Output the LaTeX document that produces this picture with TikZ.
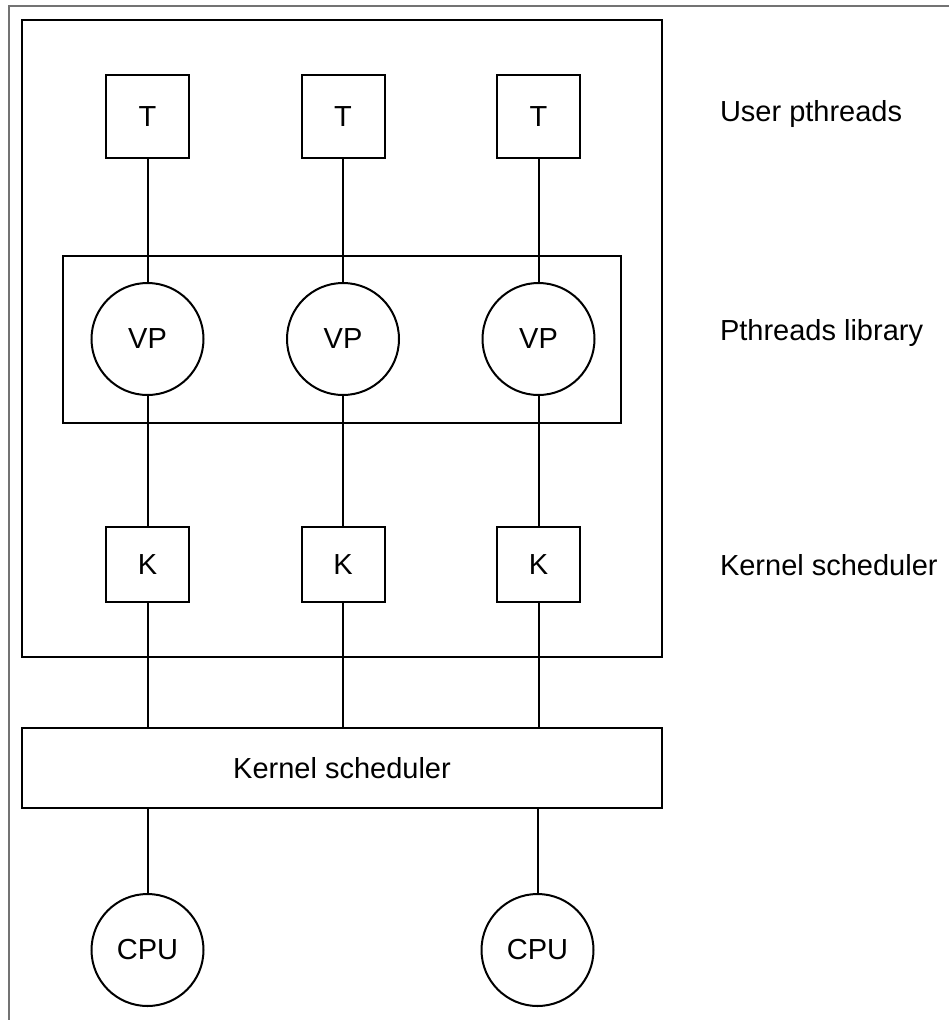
\documentclass[tikz,border=0pt]{standalone}
\usepackage{fontspec}
\setmainfont{Liberation Sans}
\begin{document}
\begin{tikzpicture}[x=1pt,y=-1pt,
  every node/.style={font=\fontsize{29}{34}\selectfont, inner sep=0pt, outer sep=0pt},
  frame/.style={draw=black!55, line width=1.5pt},
  box/.style={draw, line width=2pt, rectangle},
  sq/.style={box, minimum width=83pt, minimum height=83pt},
  kbox/.style={box, minimum width=83pt, minimum height=75pt},
  circ/.style={draw, line width=2pt, circle, minimum size=112pt},
  link/.style={line width=2pt},
  lbl/.style={anchor=base west}]
  \useasboundingbox (0,0) rectangle (949,1020);
  % open page frame: top and left edges only
  \coordinate (ftl) at (9,6);
  \coordinate (ftr) at (949,6);
  \coordinate (fbl) at (9,1020);
  \draw[frame] (ftr) -- (ftl) -- (fbl);

  % process container and library container
  \node[box, minimum width=640pt, minimum height=637pt] (proc) at (342,338.5) {};
  \node[box, minimum width=558pt, minimum height=166.5pt] (lib) at (342,339.25) {};

  % user threads, virtual processors, kernel threads
  \foreach \i/\x in {1/147.5, 2/343, 3/538.5} {
    \node[sq]   (t\i)  at (\x,116.5) {T};
    \node[circ] (vp\i) at (\x,339)   {VP};
    \node[kbox] (k\i)  at (\x,564.5) {K};
  }

  % kernel scheduler and processors
  \node[box, minimum width=640pt, minimum height=80pt] (sched) at (342,768) {Kernel scheduler};
  \node[circ] (cpu1) at (147.5,950) {CPU};
  \node[circ] (cpu2) at (537.5,950) {CPU};

  % layer captions
  \node[lbl] (l1) at (720,121) {User pthreads};
  \node[lbl] (l2) at (720,340) {Pthreads library};
  \node[lbl] (l3) at (720,575) {Kernel scheduler};

  % connectors
  \foreach \i in {1,2,3} {
    \draw[link] (t\i.south) -- (vp\i.north);
    \draw[link] (vp\i.south) -- (k\i.north);
    \draw[link] (k\i.south) -- (k\i.south |- sched.north);
  }
  \draw[link] (cpu1.north |- sched.south) -- (cpu1.north);
  \draw[link] (cpu2.north |- sched.south) -- (cpu2.north);
\end{tikzpicture}
\end{document}
